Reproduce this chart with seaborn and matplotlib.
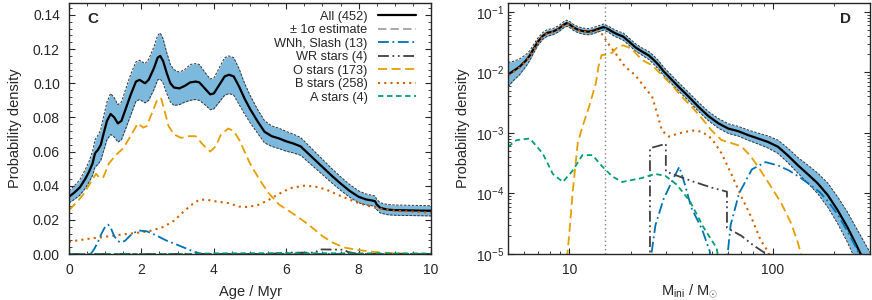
import numpy as np
import matplotlib
matplotlib.use("Agg")
import matplotlib.pyplot as plt
from matplotlib.lines import Line2D
from matplotlib.ticker import MultipleLocator, FormatStrFormatter
import seaborn as sns

# ---------------------------------------------------------------------------
# Dados - painel C (idade)
# ---------------------------------------------------------------------------
idade_all = [0, 0.15, 0.3, 0.45, 0.55, 0.65, 0.72, 0.8, 0.88, 0.95,
             1.05, 1.15, 1.25, 1.35, 1.45, 1.55, 1.7, 1.85, 1.95, 2.1,
             2.2, 2.35, 2.45, 2.52, 2.6, 2.7, 2.8, 2.9, 3.05, 3.2,
             3.35, 3.5, 3.6, 3.75, 3.9, 4.0, 4.15, 4.3, 4.42, 4.55,
             4.7, 4.85, 5.0, 5.2, 5.4, 5.6, 5.8, 6.0, 6.2, 6.4,
             6.6, 6.8, 7.0, 7.25, 7.5, 7.75, 8.0, 8.2, 8.45, 8.5,
             8.6, 8.8, 9.0, 9.5, 10]
dens_all = [0.0335, 0.036, 0.039, 0.044, 0.048, 0.053, 0.059, 0.061, 0.064, 0.070,
            0.078, 0.082, 0.080, 0.0765, 0.078, 0.084, 0.093, 0.101, 0.102, 0.100,
            0.102, 0.109, 0.115, 0.116, 0.113, 0.106, 0.100, 0.0975, 0.097, 0.0985,
            0.1005, 0.101, 0.1005, 0.097, 0.0935, 0.094, 0.099, 0.104, 0.105, 0.104,
            0.098, 0.091, 0.085, 0.078, 0.0716, 0.069, 0.0677, 0.066, 0.0647, 0.063,
            0.059, 0.055, 0.051, 0.046, 0.0413, 0.037, 0.0335, 0.032, 0.031, 0.029,
            0.027, 0.026, 0.0257, 0.0255, 0.0253]
sigma_all = [0.0035, 0.004, 0.0045, 0.0055, 0.006, 0.007, 0.008, 0.0085, 0.009, 0.010,
             0.011, 0.012, 0.0115, 0.011, 0.011, 0.0115, 0.012, 0.0115, 0.0115, 0.0115,
             0.012, 0.0125, 0.013, 0.0135, 0.013, 0.012, 0.011, 0.0105, 0.0095, 0.0095,
             0.0105, 0.0105, 0.0105, 0.0095, 0.009, 0.009, 0.010, 0.011, 0.011, 0.011,
             0.0105, 0.009, 0.008, 0.007, 0.0065, 0.006, 0.006, 0.0058, 0.0055, 0.0052,
             0.005, 0.0047, 0.0045, 0.0042, 0.004, 0.0037, 0.0035, 0.0032, 0.003, 0.003,
             0.003, 0.003, 0.003, 0.003, 0.003]

idade_o = [0, 0.2, 0.4, 0.6, 0.75, 0.85, 0.95, 1.1, 1.3, 1.5,
           1.7, 1.9, 2.05, 2.15, 2.3, 2.45, 2.55, 2.65, 2.75, 2.9,
           3.1, 3.3, 3.5, 3.7, 3.9, 4.05, 4.2, 4.4, 4.55, 4.7,
           4.85, 5.0, 5.25, 5.5, 5.8, 6.2, 6.6, 7.0, 7.3, 7.6,
           8.0, 8.5, 9.0, 10]
dens_o = [0.0257, 0.030, 0.035, 0.042, 0.047, 0.0445, 0.045, 0.053, 0.058, 0.062,
          0.069, 0.0765, 0.074, 0.075, 0.083, 0.091, 0.091, 0.083, 0.075, 0.070,
          0.068, 0.069, 0.069, 0.064, 0.060, 0.063, 0.070, 0.0735, 0.072, 0.067,
          0.060, 0.053, 0.044, 0.036, 0.029, 0.0235, 0.0175, 0.0105, 0.0065, 0.0038,
          0.0023, 0.001, 0.0004, 0.0]

idade_b = [0, 0.5, 1.0, 1.5, 2.0, 2.3, 2.6, 2.9, 3.2, 3.4, 3.6, 3.8, 4.0, 4.4,
           4.7, 4.9, 5.2, 5.5, 5.8, 6.1, 6.5, 6.8, 7.1, 7.5, 8.0, 8.5, 9.0, 10]
dens_b = [0.0072, 0.0088, 0.0101, 0.0115, 0.0127, 0.0138, 0.0158, 0.0195, 0.0255, 0.029,
          0.0318, 0.0318, 0.031, 0.0298, 0.0278, 0.0275, 0.0285, 0.0315, 0.0352, 0.0385,
          0.0400, 0.0395, 0.0378, 0.0340, 0.0298, 0.0268, 0.0254, 0.0242]

idade_wnh = [0.6, 0.7, 0.8, 0.9, 1.0, 1.08, 1.15, 1.25, 1.35, 1.45, 1.55,
             1.7, 1.85, 1.95, 2.15, 2.4, 2.7, 3.0, 3.3, 3.5, 3.7, 10]
dens_wnh = [0.0, 0.003, 0.007, 0.012, 0.016, 0.0172, 0.0155, 0.0105, 0.0075, 0.0068, 0.0078,
            0.011, 0.013, 0.0137, 0.0133, 0.011, 0.0078, 0.0053, 0.0027, 0.001, 0.0, 0.0]

idade_wr = [0, 5.5, 6.0, 6.8, 6.9, 7.0, 7.6, 7.7, 8.0, 10]
dens_wr = [0, 0, 0.0008, 0.0008, 0.0025, 0.0027, 0.0025, 0.0012, 0, 0]

idade_a = [0, 3.4, 4.0, 6.0, 8.0, 10]
dens_a = [0, 0, 0.0004, 0.0005, 0.0004, 0.0003]

# ---------------------------------------------------------------------------
# Dados - painel D (massa inicial)
# ---------------------------------------------------------------------------
massa_all = [5.0, 5.3, 5.7, 6.1, 6.4, 6.7, 7.0, 7.4, 7.8, 8.3,
             8.9, 9.3, 9.7, 10.1, 10.5, 11.0, 11.7, 12.4, 13.0, 13.8,
             14.7, 15.5, 16.5, 17.4, 18.4, 19.5, 21.1, 22.8, 24.6, 26.0,
             27.5, 29.0, 30.8, 34.4, 38.5, 43.1, 48.2, 54, 60.4, 67.5,
             75.6, 84.5, 94.6, 106, 118, 133, 148, 166, 186, 208,
             232, 250, 270, 300]
prob_all = [0.0092, 0.0105, 0.0124, 0.0155, 0.019, 0.025, 0.032, 0.040, 0.045, 0.047,
            0.053, 0.060, 0.065, 0.061, 0.055, 0.051, 0.048, 0.047, 0.0485, 0.052,
            0.056, 0.052, 0.0457, 0.042, 0.039, 0.033, 0.026, 0.022, 0.019, 0.016,
            0.0132, 0.0105, 0.0085, 0.0058, 0.0040, 0.0027, 0.0019, 0.00144, 0.00118, 0.00107,
            0.00092, 0.00081, 0.00071, 0.00059, 0.00043, 0.00029, 0.00021, 0.000147, 9.4e-5, 5.3e-5,
            2.8e-5, 1.7e-5, 1.0e-5, 5e-6]
sigma_dex = [0.2, 0.16, 0.13, 0.1, 0.08, 0.07, 0.06, 0.055, 0.055, 0.05,
             0.05, 0.05, 0.05, 0.05, 0.05, 0.05, 0.05, 0.05, 0.05, 0.05,
             0.05, 0.05, 0.055, 0.055, 0.06, 0.06, 0.06, 0.06, 0.065, 0.07,
             0.07, 0.07, 0.07, 0.07, 0.07, 0.075, 0.075, 0.08, 0.08, 0.08,
             0.085, 0.09, 0.1, 0.11, 0.12, 0.13, 0.15, 0.17, 0.2, 0.22,
             0.25, 0.27, 0.3, 0.33]

massa_b = [5.0, 5.3, 5.7, 6.1, 6.4, 6.7, 7.0, 7.4, 7.8, 8.3,
           8.9, 9.3, 9.7, 10.1, 10.5, 11.0, 11.7, 12.4, 13.0, 13.6,
           14.1, 14.7, 15.5, 16.8, 18.8, 21.1, 23.7, 25.5, 27.0, 28.5,
           30.8, 34.4, 40, 44.8, 50, 56, 62.5, 70, 78, 87,
           94.6, 100]
prob_b = [0.0089, 0.0101, 0.012, 0.015, 0.0185, 0.024, 0.031, 0.039, 0.044, 0.046,
          0.052, 0.059, 0.064, 0.060, 0.054, 0.050, 0.047, 0.046, 0.047, 0.049,
          0.048, 0.040, 0.030, 0.021, 0.0124, 0.009, 0.0054, 0.0040, 0.0021, 0.0011,
          0.00087, 0.00098, 0.0011, 0.00105, 0.00081, 0.00046, 0.00021, 8.9e-5, 4.2e-5, 1.7e-5,
          1.1e-5, 7e-6]

massa_o = [9.6, 10.0, 10.4, 11.0, 11.6, 12.5, 13.5, 13.9, 14.4, 15.3,
           16.2, 17.2, 18.4, 19.5, 20.6, 22.8, 25.5, 28.5, 31.9, 35.6,
           40, 44.8, 50, 56, 62.5, 70, 78, 87, 98, 110,
           123, 133, 140]
prob_o = [5e-6, 2.2e-5, 1.1e-4, 6.8e-4, 0.00126, 0.0027, 0.0066, 0.0124, 0.0193, 0.0197,
          0.021, 0.026, 0.028, 0.026, 0.023, 0.016, 0.0131, 0.009, 0.0062, 0.0040,
          0.0027, 0.00174, 0.0011, 0.00076, 0.00068, 0.0006, 0.00041, 0.00024, 0.000129, 6.9e-5,
          3.2e-5, 1.5e-5, 8e-6]

massa_a = [5.0, 5.5, 6.4, 7.4, 8.3, 9.3, 10.4, 11.6, 13.0, 14.5,
           16.3, 18.2, 22.7, 26.4, 29.6, 33.7, 39.2, 45.5, 52.9, 55]
prob_a = [5.9e-4, 7.6e-4, 8.1e-4, 4.6e-4, 2.1e-4, 1.55e-4, 2.4e-4, 4.3e-4, 4.3e-4, 2.8e-4,
          1.9e-4, 1.55e-4, 1.8e-4, 2.1e-4, 1.96e-4, 1.4e-4, 7.4e-5, 2.8e-5, 1.26e-5, 6e-6]

massa_wnh = [24.6, 26.5, 29.0, 32.0, 34.7, 37.0, 39.7, 45.0, 49.0, 50,
             58.7, 62, 68.2, 78.9, 92, 106, 120, 134, 150, 170,
             186, 208, 232, 250, 270, 300]
prob_wnh = [5e-6, 3e-5, 8e-5, 1.6e-4, 2.75e-4, 1.4e-4, 5.9e-5, 2.5e-5, 1.1e-5, 5e-6,
            5e-6, 3e-5, 1.0e-4, 2.5e-4, 3.3e-4, 2.9e-4, 2.4e-4, 1.9e-4, 1.45e-4, 1.05e-4,
            7.5e-5, 4.5e-5, 2.4e-5, 1.5e-5, 9e-6, 4e-6]

massa_wr = [24.9, 24.9, 29.8, 29.8, 40, 50, 59.5, 59.5, 70, 80, 93, 100]
prob_wr = [5e-6, 5.6e-4, 6.6e-4, 2.3e-4, 1.6e-4, 1.25e-4, 1.07e-4, 2.7e-5, 2.0e-5, 1.4e-5,
           1.0e-5, 8e-6]

MASSA_CORTE = 15

legendas = ["All (452)", "± 1σ estimate", "WNh, Slash (13)", "WR stars (4)",
            "O stars (173)", "B stars (258)", "A stars (4)"]

# ---------------------------------------------------------------------------
# Estilo
# ---------------------------------------------------------------------------
sns.set_style("ticks")
plt.rcParams["font.family"] = ["Liberation Sans", "DejaVu Sans"]
plt.rcParams["mathtext.fontset"] = "custom"
plt.rcParams["mathtext.rm"] = "Liberation Sans"
plt.rcParams["mathtext.it"] = "Liberation Sans:italic"
plt.rcParams["font.size"] = 10

COR_BANDA = "#7db9dc"
ESTILOS = {
    "wnh": dict(color="#0072B2", lw=1.3, dashes=(6, 2, 1, 2)),
    "wr": dict(color="#404040", lw=1.3, dashes=(6, 2, 1, 2, 1, 2)),
    "o": dict(color="#E69F00", lw=1.3, dashes=(5, 2.5)),
    "b": dict(color="#D55E00", lw=1.5, dashes=(1, 2)),
    "a": dict(color="#009E73", lw=1.3, dashes=(3, 2)),
}


def linha(ax, x, y, chave):
    est = ESTILOS[chave]
    sns.lineplot(x=x, y=y, ax=ax, color=est["color"], lw=est["lw"], dashes=est["dashes"],
                 estimator=None, sort=False, legend=False)


def banda(ax, x, lo, hi):
    ax.fill_between(x, lo, hi, color=COR_BANDA, lw=0)
    for borda in (lo, hi):
        ax.plot(x, borda, color="#333333", lw=0.7, dashes=(2.5, 1.5))


def eixo_ticks(ax, pad_y):
    ax.tick_params(direction="in", which="both", top=True, right=True, labelsize=10)
    ax.tick_params(which="major", length=4, width=0.8)
    ax.tick_params(which="minor", length=2.2, width=0.6)
    ax.tick_params(axis="x", which="both", pad=6.5)
    ax.tick_params(axis="y", which="both", pad=pad_y)
    for s in ax.spines.values():
        s.set_linewidth(1.0)


fig = plt.figure(figsize=(8.72, 3.0), dpi=100)
ax1 = fig.add_axes([0.0791, 0.1533, 0.4152, 0.8367])
ax2 = fig.add_axes([0.5826, 0.1533, 0.4151, 0.8367])

# --- Painel C ---
da = np.array(dens_all)
sa = np.array(sigma_all)
banda(ax1, idade_all, da - sa, da + sa)
sns.lineplot(x=idade_all, y=dens_all, ax=ax1, color="black", lw=1.6,
             estimator=None, sort=False)
linha(ax1, idade_b, dens_b, "b")
linha(ax1, idade_o, dens_o, "o")
linha(ax1, idade_wnh, dens_wnh, "wnh")
linha(ax1, idade_wr, dens_wr, "wr")
linha(ax1, idade_a, dens_a, "a")

ax1.set_xlim(0, 10)
ax1.set_ylim(0, 0.147)
ax1.xaxis.set_major_locator(MultipleLocator(2))
ax1.xaxis.set_minor_locator(MultipleLocator(0.5))
ax1.yaxis.set_major_locator(MultipleLocator(0.02))
ax1.yaxis.set_minor_locator(MultipleLocator(0.004))
ax1.yaxis.set_major_formatter(FormatStrFormatter("%.2f"))
ax1.set_xlabel("Age / Myr", fontsize=10.5, labelpad=6)
ax1.set_ylabel("Probability density", fontsize=10.5, labelpad=8)
ax1.text(0.05, 0.937, "C", transform=ax1.transAxes, fontsize=11, fontweight="bold",
         va="center", ha="left")
eixo_ticks(ax1, 6.5)

handles = [
    Line2D([], [], color="black", lw=1.6),
    Line2D([], [], color="#9a9a9a", lw=1.2, dashes=(5, 2.5)),
]
for chave in ["wnh", "wr", "o", "b", "a"]:
    est = ESTILOS[chave]
    handles.append(Line2D([], [], color=est["color"], lw=est["lw"], dashes=est["dashes"]))
ax1.legend(handles, legendas, loc="upper right", bbox_to_anchor=(0.968, 0.985),
           frameon=False, markerfirst=False, fontsize=9.2, handlelength=2.95,
           handletextpad=0.8, labelspacing=0.12, borderaxespad=0.0, borderpad=0.3)

# --- Painel D ---
pa = np.array(prob_all)
sd = np.array(sigma_dex)
banda(ax2, massa_all, pa * 10 ** (-sd), pa * 10 ** sd)
sns.lineplot(x=massa_all, y=prob_all, ax=ax2, color="black", lw=1.6,
             estimator=None, sort=False)
linha(ax2, massa_b, prob_b, "b")
linha(ax2, massa_o, prob_o, "o")
linha(ax2, massa_wnh, prob_wnh, "wnh")
linha(ax2, massa_wr, prob_wr, "wr")
linha(ax2, massa_a, prob_a, "a")
ax2.axvline(MASSA_CORTE, color="#808080", lw=1.0, dashes=(1, 2))

ax2.set_xscale("log")
ax2.set_yscale("log")
ax2.set_xlim(5, 300)
ax2.set_ylim(1e-5, 0.14)
ax2.set_xticks([10, 100])
ax2.set_xticklabels(["10", "100"])
ax2.set_xlabel(r"M$_{\rm ini}$ / M$_{\odot}$", fontsize=10.5, labelpad=4)
ax2.set_ylabel("Probability density", fontsize=10.5, labelpad=4)
ax2.text(0.948, 0.937, "D", transform=ax2.transAxes, fontsize=11, fontweight="bold",
         va="center", ha="right")
eixo_ticks(ax2, 3)

fig.savefig("out.png", dpi=100)
plt.close(fig)
